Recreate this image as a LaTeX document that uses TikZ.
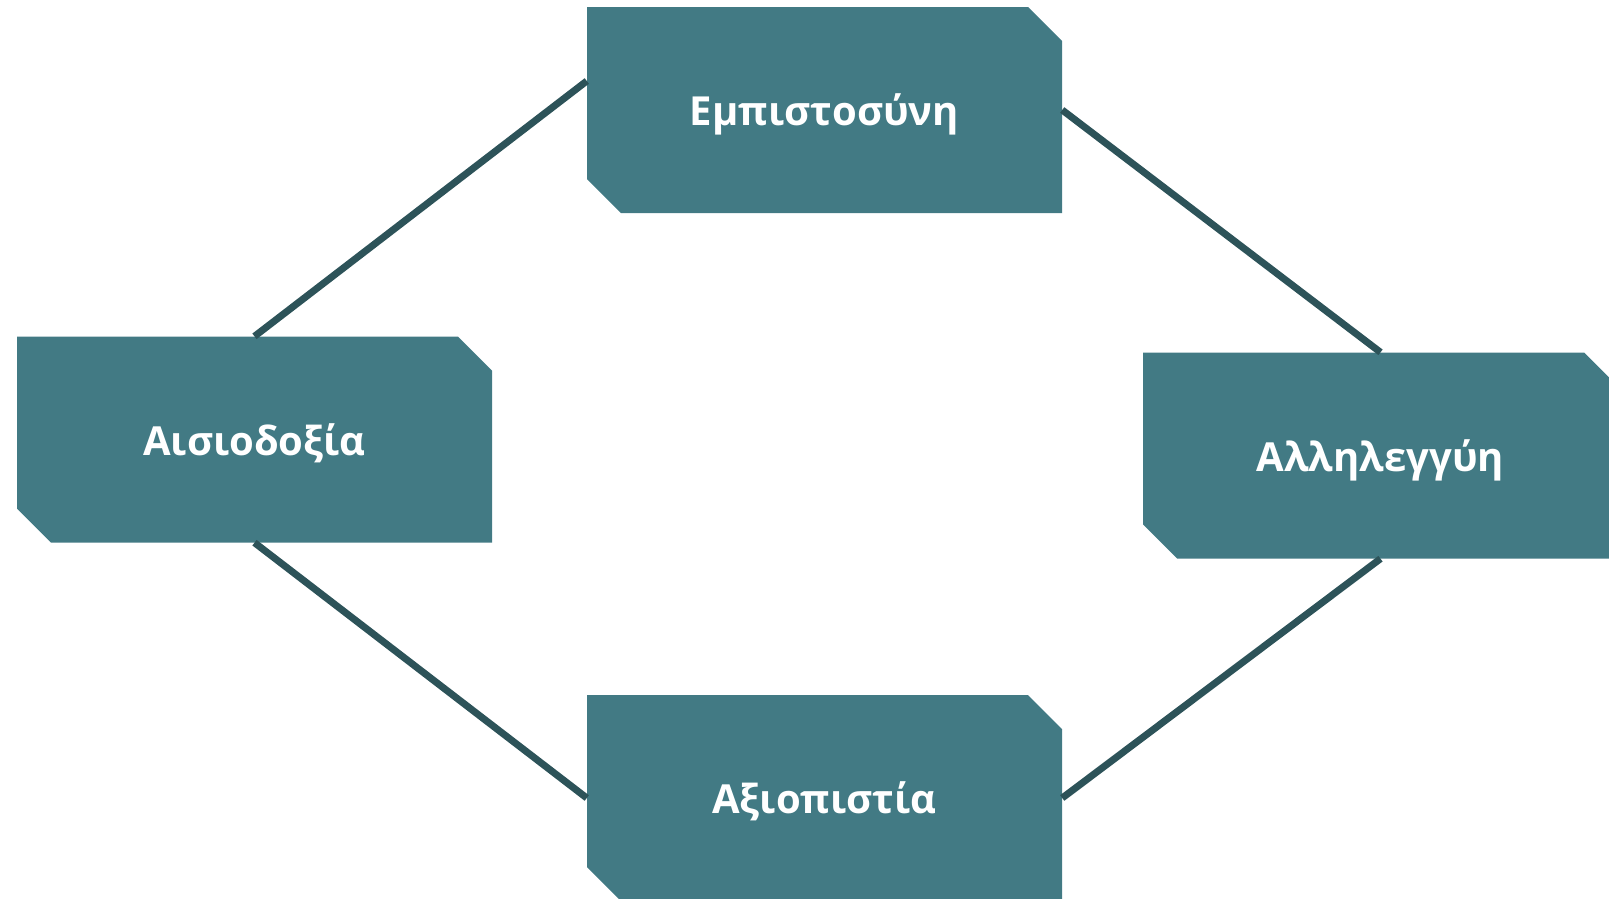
\documentclass[tikz,border=0pt]{standalone}
\usepackage{fontspec}
\setmainfont{Open Sans}
\usetikzlibrary{calc}
\definecolor{boxfill}{RGB}{66,122,132}
\definecolor{linkcol}{RGB}{45,83,89}
\tikzset{
  box/.style={minimum width=475pt, minimum height=206pt, inner sep=0pt,
    text=white, font=\fontsize{40}{46}\selectfont\bfseries,
    text height=35pt, text depth=4pt,
    path picture={\fill[boxfill]
      (path picture bounding box.north west)
      -- ([xshift=-34pt]path picture bounding box.north east)
      -- ([yshift=-34pt]path picture bounding box.north east)
      -- (path picture bounding box.south east)
      -- ([xshift=34pt]path picture bounding box.south west)
      -- ([yshift=34pt]path picture bounding box.south west)
      -- cycle;}},
  link/.style={draw=linkcol, line width=7pt}
}
\begin{document}
\begin{tikzpicture}[x=1pt,y=-1pt]
\useasboundingbox (0,0) rectangle (1609,898);
\node[box] (trust) at (824.5,110) {Εμπιστοσύνη};
\node[box] (hope) at (254.5,439.5) {Αισιοδοξία};
\node[box] (solid) at (1380.5,455.5) {Αλληλεγγύη};
\node[box] (credit) at (824.5,798) {Αξιοπιστία};
\draw[link] (hope.north) -- ([yshift=29pt]trust.west);
\draw[link] (trust.east) -- (solid.north);
\draw[link] (solid.south) -- (credit.east);
\draw[link] (hope.south) -- (credit.west);
\end{tikzpicture}
\end{document}
